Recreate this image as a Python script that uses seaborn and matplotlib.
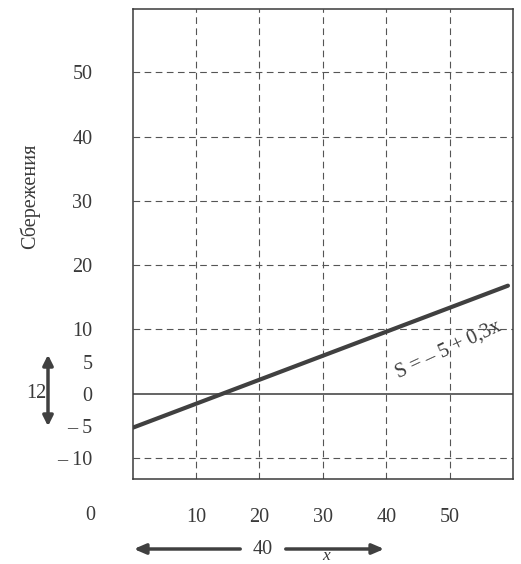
import matplotlib
matplotlib.use('Agg')
import matplotlib.pyplot as plt
import seaborn as sb
import pandas as pd

# data
income = [0, 59.2]
savings = [-5.3, 16.8]
x_ticks = [10, 20, 30, 40, 50]
y_ticks = [-10, -5, 0, 5, 10, 20, 30, 40, 50]
y_tick_labels = ['\u2013 10', '\u2013 5', '0', '5', '10', '20', '30', '40', '50']
x_grid = [10, 20, 30, 40, 50]
y_grid = [-10, 10, 20, 30, 40, 50]

sb.set_style("white")
plt.rcParams['font.family'] = ['Liberation Serif', 'DejaVu Serif']
ink = '#3a3a3a'
fs = 14.5

df = pd.DataFrame({'x': income, 'S': savings})

fig = plt.figure(figsize=(5.21, 5.64), dpi=100)
ax = fig.add_axes([132.7/521, 1-478.5/564, (513-132.7)/521, (478.5-9.3)/564])

for gx in x_grid:
    ax.axvline(gx, color='#555555', lw=0.8, ls=(0, (6, 4)), zorder=1)
for gy in y_grid:
    ax.axhline(gy, color='#555555', lw=0.8, ls=(0, (6, 4)), zorder=1)
ax.axhline(0, color=ink, lw=1.1, zorder=2)

sb.lineplot(df, x='x', y='S', ax=ax, color='#404040', lw=3, zorder=3)

ax.set_xlim(0, 60)
ax.set_ylim(-13.2, 59.8)
ax.set_xticks(x_ticks)
ax.set_xticklabels([str(t) for t in x_ticks])
ax.set_yticks(y_ticks)
ax.set_yticklabels(y_tick_labels)
ax.tick_params(axis='both', length=0, labelsize=fs, colors=ink)
ax.tick_params(axis='y', pad=29)
ax.tick_params(axis='x', pad=21)
for s in ax.spines.values():
    s.set_color(ink)
    s.set_linewidth(1.1)
ax.set_xlabel('')
ax.set_ylabel('')

# outside "0" label on x axis
fig.text(90/521, 1-515/564, '0', ha='center', va='center', fontsize=fs, color=ink)

# y-axis title
fig.text(30/521, 1-196/564, 'Сбережения', rotation=90, ha='center', va='center',
         fontsize=fs, color=ink)

# equation on the line
ax.text(49.8, 6.9, 'S = \u2013 5 + 0,3x', rotation=25, ha='center', va='center',
        fontsize=fs, color=ink)

# vertical double arrow "12"
fig.patches.append(matplotlib.patches.FancyArrowPatch(
    (48/521, 1-352/564), (48/521, 1-429/564), transform=fig.transFigure,
    arrowstyle='<|-|>,head_length=6,head_width=3', color='#404040', lw=2.5))
fig.text(36/521, 1-393/564, '12', ha='center', va='center', fontsize=fs, color=ink)

# horizontal double arrow "40"
fig.patches.append(matplotlib.patches.FancyArrowPatch(
    (243/521, 1-549/564), (131/521, 1-549/564), transform=fig.transFigure,
    arrowstyle='-|>,head_length=7,head_width=3', color='#404040', lw=2.5))
fig.patches.append(matplotlib.patches.FancyArrowPatch(
    (283/521, 1-549/564), (387/521, 1-549/564), transform=fig.transFigure,
    arrowstyle='-|>,head_length=7,head_width=3', color='#404040', lw=2.5))
fig.text(263/521, 1-549/564, '40', ha='center', va='center', fontsize=fs, color=ink)

# axis caption at the bottom (cut off in the source)
fig.text(326/521, 1-560/564, 'x', ha='center', va='baseline', fontsize=fs - 2,
         style='italic', color=ink)

fig.savefig('out.png', dpi=100)
